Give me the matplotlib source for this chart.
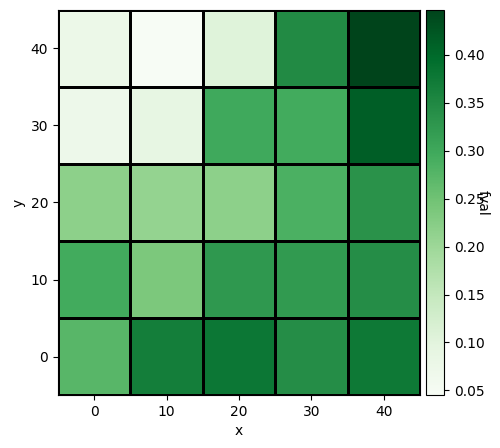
import numpy as np
import matplotlib
matplotlib.use("Agg")
import matplotlib.pyplot as plt

# grid centres
xs = [0, 10, 20, 30, 40]
ys = [0, 10, 20, 30, 40]

# fval per row (y = 0 .. 40), columns x = 0 .. 40
fval_y0 = [0.274, 0.367, 0.379, 0.343, 0.375]
fval_y10 = [0.295, 0.238, 0.326, 0.322, 0.343]
fval_y20 = [0.218, 0.210, 0.219, 0.286, 0.334]
fval_y30 = [0.073, 0.089, 0.298, 0.296, 0.415]
fval_y40 = [0.077, 0.045, 0.105, 0.347, 0.447]

fval = np.array([fval_y0, fval_y10, fval_y20, fval_y30, fval_y40])

fig = plt.figure(figsize=(5, 4.48), dpi=100)
ax = fig.add_axes([0.116, 0.118, 0.724, 0.86])
cax = fig.add_axes([0.852, 0.118, 0.036, 0.86])

mesh = ax.pcolormesh(xs, ys, fval, shading='nearest', cmap='Greens',
                     edgecolors='black', linewidth=2)
ax.set_xticks(xs)
ax.set_yticks(ys)
ax.set_xlabel('x')
ax.set_ylabel('y')

cbar = fig.colorbar(mesh, cax=cax)
cbar.set_label('fval', rotation=270)

fig.savefig('out.png')
